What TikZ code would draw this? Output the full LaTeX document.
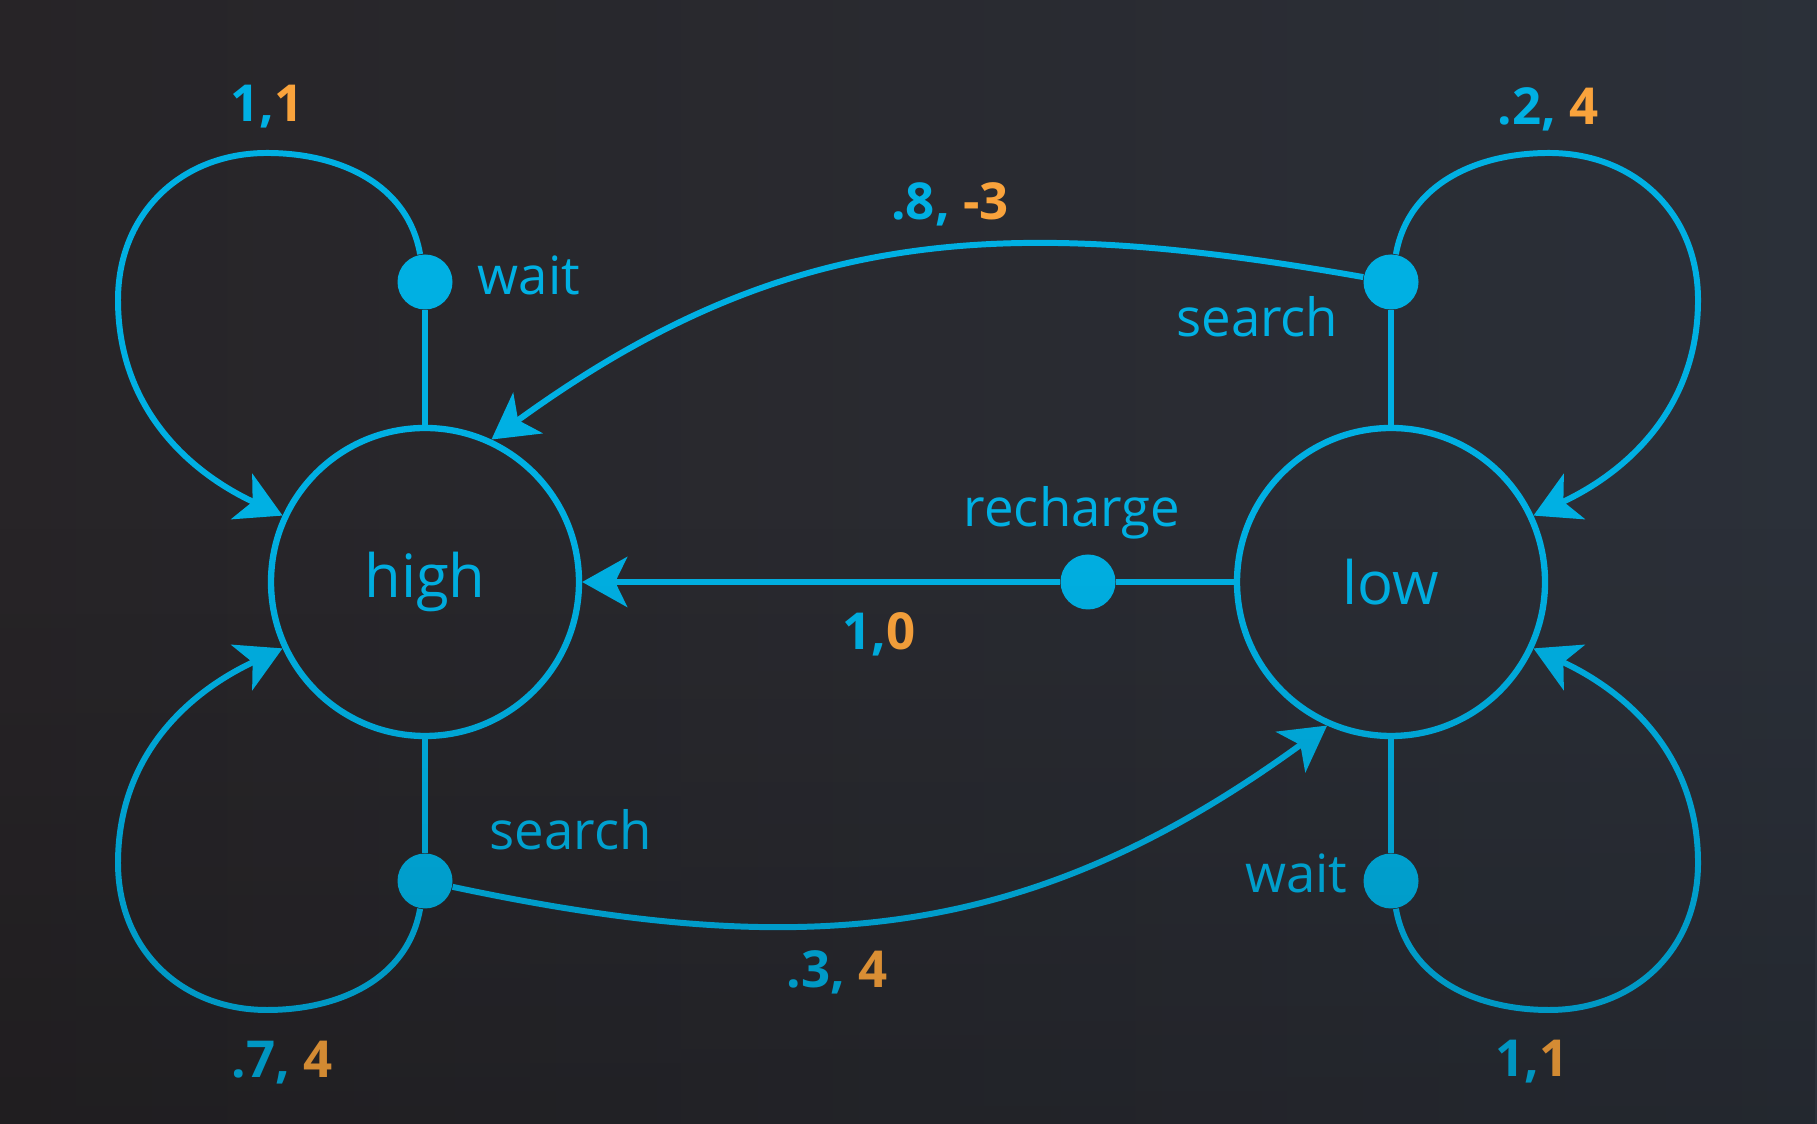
\documentclass[tikz,border=0pt]{standalone}
\usepackage{fontspec}
\setmainfont{Open Sans}
\usetikzlibrary{arrows.meta,fadings}
\definecolor{sky}{HTML}{00B0E3}
\definecolor{amber}{HTML}{F9A33C}
\definecolor{bgl}{HTML}{272427}
\definecolor{bgr}{HTML}{2B3039}
\tikzstyle{state} = [circle, draw=sky, line width=1.8pt, minimum size=3.08cm, inner sep=0pt, text=sky, font=\fontsize{17}{20}\selectfont]
\tikzstyle{choice} = [circle, fill=sky, minimum size=0.55cm, inner sep=0pt]
\tikzstyle{act} = [text=sky, inner sep=0pt, font=\fontsize{15}{17}\selectfont]
\tikzstyle{rew} = [text=sky, inner sep=0pt, anchor=base, font=\bfseries\fontsize{14.5}{17}\selectfont]
\tikzstyle{link} = [draw=sky, line width=1.7pt]
\tikzstyle{go} = [link, -{Stealth[length=0.45cm, width=0.5cm, inset=0.12cm]}]

\begin{document}
\begin{tikzpicture}
    \shade[left color=bgl, right color=bgr] (0,0) rectangle (18.17,11.24);
    \useasboundingbox (0,0) rectangle (18.17,11.24);

    % states and action dots
    \node[state] (high) at (4.25,5.42) {high};
    \node[state] (low) at (13.91,5.42) {low};
    \node[choice] (wh) at (4.25,8.42) {};
    \node[choice] (sh) at (4.25,2.43) {};
    \node[choice] (sl) at (13.91,8.42) {};
    \node[choice] (wl) at (13.91,2.43) {};
    \node[choice] (rl) at (10.88,5.42) {};

    \draw[link] (high) -- (wh);
    \draw[link] (high) -- (sh);
    \draw[link] (low) -- (sl);
    \draw[link] (low) -- (wl);
    \draw[link] (low) -- (rl);

    % transitions
    \draw[go] (rl) -- (high);
    \draw[go] (sl) to[out=170, in=36, looseness=1.05] (high.65);
    \draw[go] (sh) to[out=-12, in=216, looseness=1.05] (low.246);
    \draw[go] (wh) to[out=100, in=0] ++(-1.58,1.29) to[out=180, in=90, looseness=1.05] ++(-1.49,-1.47) to[out=-90, in=155] (high.155);
    \draw[go] (sl) to[out=80, in=180] ++(1.58,1.29) to[out=0, in=90, looseness=1.05] ++(1.49,-1.47) to[out=-90, in=25] (low.25);
    \draw[go] (sh) to[out=-100, in=0] ++(-1.58,-1.29) to[out=180, in=-90, looseness=1.05] ++(-1.49,1.47) to[out=90, in=-155] (high.205);
    \draw[go] (wl) to[out=-80, in=180] ++(1.58,-1.29) to[out=0, in=-90, looseness=1.05] ++(1.49,1.47) to[out=90, in=-25] (low.-25);

    % action names
    \node[act, anchor=base west] (twh) at (4.77,8.29) {wait};
    \node[act, anchor=base east] (tsl) at (13.39,7.87) {search};
    \node[act, anchor=base] (trl) at (10.72,5.97) {recharge};
    \node[act, anchor=base west] (tsh) at (4.89,2.74) {search};
    \node[act, anchor=base east] (twl) at (13.48,2.31) {wait};

    % probability, reward
    \node[rew] (r1) at (2.67,10.02) {1,\textcolor{amber}{1}};
    \node[rew] (r2) at (15.48,9.99) {.2, \textcolor{amber}{4}};
    \node[rew] (r3) at (9.50,9.04) {.8, \textcolor{amber}{-3}};
    \node[rew] (r4) at (8.79,4.74) {1,\textcolor{amber}{0}};
    \node[rew] (r5) at (8.37,1.36) {.3, \textcolor{amber}{4}};
    \node[rew] (r6) at (2.82,0.46) {.7, \textcolor{amber}{4}};
    \node[rew] (r7) at (15.32,0.47) {1,\textcolor{amber}{1}};

    \fill[black, opacity=0.17, path fading=north] (0,0) rectangle (18.17,6);
\end{tikzpicture}
\end{document}
